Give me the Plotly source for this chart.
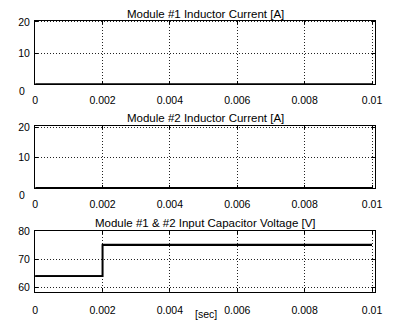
import plotly.graph_objects as go

# ---- data ----
t_current = [0.0, 0.01]
i_mod1 = [0.0, 0.0]
i_mod2 = [0.0, 0.0]
t_volt = [0.0, 0.002, 0.002, 0.01]
v_mod1 = [64.0, 64.0, 75.2, 75.2]
v_mod2 = [64.0, 64.0, 75.0, 75.0]
x_ticks = [0, 0.002, 0.004, 0.006, 0.008, 0.01]
x_tick_text = ["0", "0.002", "0.004", "0.006", "0.008", "0.01"]
cur_ticks = [10, 20]
volt_ticks = [60, 70, 80]
titles = ["Module #1 Inductor Current [A]",
          "Module #2 Inductor Current [A]",
          "Module #1 & #2 Input Capacitor Voltage [V]"]

W, H = 397, 321
FONT = "Liberation Sans, Arial, sans-serif"

def py(px):
    return 1 - px / H

xdom = [33 / W, 382 / W]
panels = [(15, 80), (122.5, 186), (230, 292)]

fig = go.Figure()
fig.add_trace(go.Scatter(x=t_current, y=i_mod1, mode="lines",
                         line=dict(color="black", width=2), xaxis="x", yaxis="y"))
fig.add_trace(go.Scatter(x=t_current, y=i_mod2, mode="lines",
                         line=dict(color="black", width=2), xaxis="x2", yaxis="y2"))
fig.add_trace(go.Scatter(x=t_volt, y=v_mod1, mode="lines",
                         line=dict(color="black", width=1.6), xaxis="x3", yaxis="y3"))
fig.add_trace(go.Scatter(x=t_volt, y=v_mod2, mode="lines",
                         line=dict(color="black", width=1.6), xaxis="x3", yaxis="y3"))

axcommon = dict(showline=True, linecolor="black", linewidth=1.3, mirror="ticks",
                ticks="inside", ticklen=3, tickcolor="black",
                showgrid=True, gridcolor="#222", griddash="1px,2px", gridwidth=0.8,
                zeroline=False, tickfont=dict(family=FONT, size=10.5, color="black"))

layout = dict(width=W, height=H, margin=dict(l=0, r=0, t=0, b=0),
              paper_bgcolor="white", plot_bgcolor="white", showlegend=False)

yranges = [[0, 20.4], [0, 20.4], [58.5, 80]]
yticks = [cur_ticks, cur_ticks, volt_ticks]
for i, (top, bot) in enumerate(panels):
    sfx = "" if i == 0 else str(i + 1)
    layout["xaxis" + sfx] = dict(axcommon, domain=xdom, range=[0, 0.0101],
                                 tickvals=x_ticks, ticktext=x_tick_text,
                                 anchor="y" + sfx, ticklabelstandoff=6 if i < 2 else 9)
    layout["yaxis" + sfx] = dict(axcommon, domain=[py(bot), py(top)], range=yranges[i],
                                 tickvals=yticks[i], anchor="x" + sfx,
                                 ticklabelstandoff=2)

annotations = []
title_y = [8, 115, 222]
for i, ty in enumerate(title_y):
    annotations.append(dict(text=titles[i], x=208 / W, y=py(ty), xref="paper", yref="paper",
                            xanchor="center", yanchor="middle", showarrow=False,
                            font=dict(family=FONT, size=11.5, color="black")))
for zy in [87, 193]:
    annotations.append(dict(text="0", x=25 / W, y=py(zy), xref="paper", yref="paper",
                            xanchor="right", yanchor="middle", showarrow=False,
                            font=dict(family=FONT, size=10.5, color="black")))
annotations.append(dict(text="[sec]", x=208 / W, y=py(315), xref="paper", yref="paper",
                        xanchor="center", yanchor="middle", showarrow=False,
                        font=dict(family=FONT, size=10.5, color="black")))
layout["annotations"] = annotations

fig.update_layout(**layout)
fig.write_html("out.html")
